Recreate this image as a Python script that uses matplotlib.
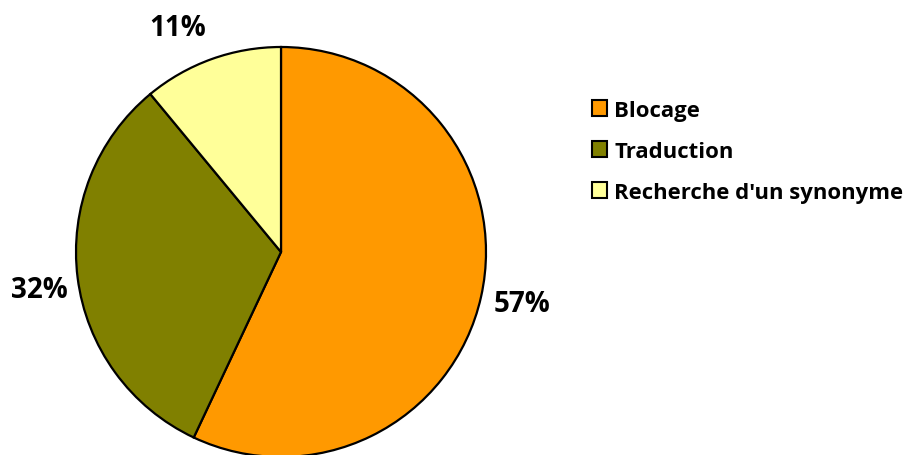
import matplotlib
matplotlib.use("Agg")
import matplotlib.pyplot as plt
from matplotlib.patches import Rectangle

categories = ["Blocage", "Traduction", "Recherche d'un synonyme"]
values = [57, 32, 11]
colors = ["#FF9900", "#808000", "#FFFF99"]
pct_labels = ["57%", "32%", "11%"]

W, H = 908, 456
fig = plt.figure(figsize=(W / 100, H / 100), dpi=100)
ax = fig.add_axes([0, 0, 1, 1])

font = "Open Sans"
cx, cy, r = 281, 203, 205
ax.pie(values, colors=colors, startangle=90, counterclock=False,
       center=(cx, cy), radius=r, frame=True,
       wedgeprops=dict(edgecolor="black", linewidth=1.6))
ax.set_xlim(0, W)
ax.set_ylim(0, H)
ax.set_aspect("equal")
ax.axis("off")

# percentage labels outside the slices
label_pos = [(522, 151), (39, 165), (178, 428)]
for (x, y), t in zip(label_pos, pct_labels):
    ax.text(x, y, t, ha="center", va="center", fontsize=20,
            fontweight="bold", family=font, color="black")

# legend
lx, yc0, step, sq = 591.5, H - 109, 41, 15.5
for i, (name, c) in enumerate(zip(categories, colors)):
    y = yc0 - i * step
    ax.add_patch(Rectangle((lx, y - sq / 2), sq, sq, facecolor=c,
                           edgecolor="black", linewidth=1.5))
    ax.text(lx + 23, y - 8.3, name, ha="left", va="baseline", fontsize=15.9,
            fontweight="bold", family=font, color="black")

fig.savefig("out.png", dpi=100)
